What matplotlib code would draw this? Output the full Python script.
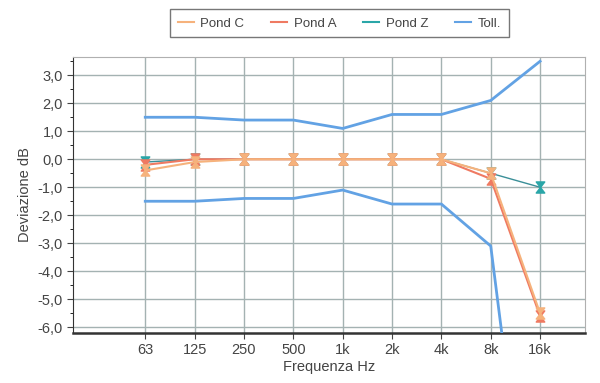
import numpy as np
import matplotlib.pyplot as plt
from matplotlib.path import Path
from matplotlib.lines import Line2D

freq_labels = ['63', '125', '250', '500', '1k', '2k', '4k', '8k', '16k']
toll_sup = [1.5, 1.5, 1.4, 1.4, 1.1, 1.6, 1.6, 2.1, 3.5]
toll_inf = [-1.5, -1.5, -1.4, -1.4, -1.1, -1.6, -1.6, -3.1, -17.0]
pond_z = [-0.1, 0.0, 0.0, 0.0, 0.0, 0.0, 0.0, -0.5, -1.0]
pond_a = [-0.2, 0.0, 0.0, 0.0, 0.0, 0.0, 0.0, -0.7, -5.6]
pond_c = [-0.4, -0.1, 0.0, 0.0, 0.0, 0.0, 0.0, -0.5, -5.5]

plt.rcParams['font.family'] = ['Liberation Sans', 'DejaVu Sans']

# marker a clessidra
clessidra = Path([(-1, 1.3), (1, 1.3), (0, 0), (1, -1.3), (-1, -1.3), (0, 0), (-1, 1.3)],
                 [Path.MOVETO, Path.LINETO, Path.LINETO, Path.LINETO, Path.LINETO,
                  Path.LINETO, Path.CLOSEPOLY])

x = np.arange(len(freq_labels))

fig = plt.figure(figsize=(6, 3.83), dpi=100)
ax = fig.add_axes([0.122, 0.131, 0.853, 0.72])

col_c = '#f6b27c'
col_a = '#ef7a62'
col_z = '#2aa6a8'
col_t = '#62a2e4'

ax.plot(x, toll_sup, color=col_t, lw=2, label='Toll.', zorder=3)
ax.plot(x, toll_inf, color=col_t, lw=2, zorder=3)
ax.plot(x, pond_z, color='#3a8f98', lw=1, marker=clessidra, ms=8, mfc=col_z, mec=col_z,
        label='Pond Z', zorder=4)
ax.plot(x, pond_a, color=col_a, lw=1.5, marker=clessidra, ms=8, mfc=col_a, mec=col_a,
        label='Pond A', zorder=5)
ax.plot(x, pond_c, color=col_c, lw=1.5, marker=clessidra, ms=8, mfc=col_c, mec=col_c,
        label='Pond C', zorder=6)

ax.set_xlim(-1.46, 8.91)
ax.set_ylim(-6.2, 3.65)
ax.set_xticks(x)
ax.set_xticklabels(freq_labels)
yt = np.arange(-6, 4, 1)
ax.set_yticks(yt)
ax.set_yticklabels([('%.1f' % v).replace('.', ',') for v in yt])
ax.set_yticks(np.arange(-6, 3.6, 0.5), minor=True)
ax.tick_params(axis='both', labelsize=10.5, colors='#444444', length=4)
ax.tick_params(axis='y', which='minor', length=2)
ax.grid(True, color='#a4b2b2', lw=1)
ax.set_axisbelow(True)
for s in ['top', 'right']:
    ax.spines[s].set_color('#b0b0b0')
ax.spines['left'].set_color('#333333')
ax.spines['bottom'].set_color('#333333')
ax.spines['bottom'].set_linewidth(1.8)
ax.set_xlabel('Frequenza Hz', fontsize=10.5, color='#444444', labelpad=2)
ax.set_ylabel('Deviazione dB', fontsize=10.5, color='#444444', labelpad=4)

handles = [Line2D([], [], color=c, lw=1.5) for c in [col_c, col_a, col_z, col_t]]
leg = fig.legend(handles, ['Pond C', 'Pond A', 'Pond Z', 'Toll.'], loc='lower left',
                 bbox_to_anchor=(0.272, 0.885, 0.587, 0.068), mode='expand', ncol=4,
                 fontsize=9.5, frameon=True, fancybox=False, handlelength=1.2,
                 handletextpad=0.5, edgecolor='#555555', borderpad=0.6)
leg.get_frame().set_linewidth(1)
for t in leg.get_texts():
    t.set_color('#444444')

plt.savefig('out.png')
